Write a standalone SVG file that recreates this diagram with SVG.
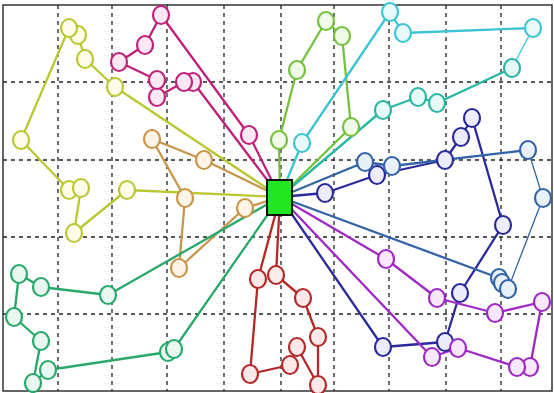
<svg xmlns="http://www.w3.org/2000/svg" width="554" height="393" viewBox="0 0 554 393">
<style>
.grid{stroke:#222;stroke-width:1.3;stroke-dasharray:4 4;fill:none}
.frame{fill:#fff;stroke:#333;stroke-width:1.5}
.r{fill:none;stroke-width:2.3;stroke-linejoin:round}
.thin{stroke-width:1.3}
.n{stroke-width:2.2}
.yl{stroke:#b9c832}.mg{stroke:#c0207a}.or{stroke:#c99548}.gt{stroke:#28a86a}.rd{stroke:#b42828}
.lg{stroke:#74c03c}.cy{stroke:#3cc4d4}.tl{stroke:#28b8a4}.db{stroke:#2a2a9c}.sb{stroke:#3464a8}.pu{stroke:#a028c4}
.yl.n{fill:#fbfde8}.mg.n{fill:#fce8f4}.or.n{fill:#fdf3e6}.gt.n{fill:#e8f8f0}.rd.n{fill:#fde9e9}
.lg.n{fill:#f0fae8}.cy.n{fill:#e8fafc}.tl.n{fill:#e8faf6}.db.n{fill:#ececfa}.sb.n{fill:#e8f0fa}.pu.n{fill:#f8e8fc}
</style>
<rect class="frame" x="3" y="5" width="549" height="386"/>
<g id="grid">
<path class="grid" d="M58 5V391M112 5V391M167 5V391M224 5V391M281 5V391M334 5V391M389 5V391M446 5V391M501 5V391M3 82H552M3 160H552M3 237H552M3 314H552"/>
</g>
<g id="connectors">
<polyline class="r yl" points="280,197 115,87 85,59 78,35 69,28 21,140 69,190 81,188 74,233 127,190 280,197"/>
<polyline class="r mg" points="280,197 193,82 184,82 157,97 157,80 119,62 145,45 161,15 249,135 280,197"/>
<polyline class="r or" points="280,197 204,160 152,139 185,198 179,268 245,208 280,197"/>
<polyline class="r gt" points="280,197 108,295 41,287 19,274 14,317 41,341 33,383 48,370 168,352 174,349 280,197"/>
<polyline class="r rd" points="280,197 258,279 250,374 290,365 297,347 318,385 318,337 303,298 276,275 280,197"/>
<polyline class="r lg" points="280,197 279,140 297,70 326,21 342,36 351,127 280,197"/>
<polyline class="r cy" points="280,197 302,143 390,12 403,33 533,28"/>
<polyline class="r cy thin" points="533,28 512,68"/>
<polyline class="r tl" points="512,68 437,103 418,97 383,110 280,197"/>
<polyline class="r db" points="280,197 325,193 377,175 445,160 461,137 472,118 503,225 460,293 445,342 383,347 280,197"/>
<polyline class="r sb" points="280,197 365,162 392,166 528,150"/>
<polyline class="r sb thin" points="528,150 543,198 508,289"/>
<polyline class="r sb" points="508,289 502,283 499,278 280,197"/>
<polyline class="r pu" points="280,197 386,259 437,298 495,313 542,302 530,367 517,367 458,348 432,357 280,197"/>
</g>
<g id="depot"><rect x="267" y="180" width="25" height="35" fill="#22e622" stroke="#111" stroke-width="2"/></g>
<g id="y1"><ellipse class="n yl" cx="115" cy="87" rx="8" ry="9"/></g>
<g id="y2"><ellipse class="n yl" cx="85" cy="59" rx="8" ry="9"/></g>
<g id="y3"><ellipse class="n yl" cx="78" cy="35" rx="8" ry="9"/></g>
<g id="y4"><ellipse class="n yl" cx="69" cy="28" rx="8" ry="9"/></g>
<g id="y5"><ellipse class="n yl" cx="21" cy="140" rx="8" ry="9"/></g>
<g id="y6"><ellipse class="n yl" cx="69" cy="190" rx="8" ry="9"/></g>
<g id="y7"><ellipse class="n yl" cx="81" cy="188" rx="8" ry="9"/></g>
<g id="y8"><ellipse class="n yl" cx="74" cy="233" rx="8" ry="9"/></g>
<g id="y9"><ellipse class="n yl" cx="127" cy="190" rx="8" ry="9"/></g>
<g id="m1"><ellipse class="n mg" cx="193" cy="82" rx="8" ry="9"/></g>
<g id="m2"><ellipse class="n mg" cx="184" cy="82" rx="8" ry="9"/></g>
<g id="m3"><ellipse class="n mg" cx="157" cy="97" rx="8" ry="9"/></g>
<g id="m4"><ellipse class="n mg" cx="157" cy="80" rx="8" ry="9"/></g>
<g id="m5"><ellipse class="n mg" cx="119" cy="62" rx="8" ry="9"/></g>
<g id="m6"><ellipse class="n mg" cx="145" cy="45" rx="8" ry="9"/></g>
<g id="m7"><ellipse class="n mg" cx="161" cy="15" rx="8" ry="9"/></g>
<g id="m8"><ellipse class="n mg" cx="249" cy="135" rx="8" ry="9"/></g>
<g id="o1"><ellipse class="n or" cx="204" cy="160" rx="8" ry="9"/></g>
<g id="o2"><ellipse class="n or" cx="152" cy="139" rx="8" ry="9"/></g>
<g id="o3"><ellipse class="n or" cx="185" cy="198" rx="8" ry="9"/></g>
<g id="o4"><ellipse class="n or" cx="179" cy="268" rx="8" ry="9"/></g>
<g id="o5"><ellipse class="n or" cx="245" cy="208" rx="8" ry="9"/></g>
<g id="g1"><ellipse class="n gt" cx="108" cy="295" rx="8" ry="9"/></g>
<g id="g2"><ellipse class="n gt" cx="41" cy="287" rx="8" ry="9"/></g>
<g id="g3"><ellipse class="n gt" cx="19" cy="274" rx="8" ry="9"/></g>
<g id="g4"><ellipse class="n gt" cx="14" cy="317" rx="8" ry="9"/></g>
<g id="g5"><ellipse class="n gt" cx="41" cy="341" rx="8" ry="9"/></g>
<g id="g6"><ellipse class="n gt" cx="33" cy="383" rx="8" ry="9"/></g>
<g id="g7"><ellipse class="n gt" cx="48" cy="370" rx="8" ry="9"/></g>
<g id="g8"><ellipse class="n gt" cx="168" cy="352" rx="8" ry="9"/></g>
<g id="g9"><ellipse class="n gt" cx="174" cy="349" rx="8" ry="9"/></g>
<g id="r1"><ellipse class="n rd" cx="258" cy="279" rx="8" ry="9"/></g>
<g id="r2"><ellipse class="n rd" cx="250" cy="374" rx="8" ry="9"/></g>
<g id="r3"><ellipse class="n rd" cx="290" cy="365" rx="8" ry="9"/></g>
<g id="r4"><ellipse class="n rd" cx="297" cy="347" rx="8" ry="9"/></g>
<g id="r5"><ellipse class="n rd" cx="318" cy="385" rx="8" ry="9"/></g>
<g id="r6"><ellipse class="n rd" cx="318" cy="337" rx="8" ry="9"/></g>
<g id="r7"><ellipse class="n rd" cx="303" cy="298" rx="8" ry="9"/></g>
<g id="r8"><ellipse class="n rd" cx="276" cy="275" rx="8" ry="9"/></g>
<g id="l1"><ellipse class="n lg" cx="279" cy="140" rx="8" ry="9"/></g>
<g id="l2"><ellipse class="n lg" cx="297" cy="70" rx="8" ry="9"/></g>
<g id="l3"><ellipse class="n lg" cx="326" cy="21" rx="8" ry="9"/></g>
<g id="l4"><ellipse class="n lg" cx="342" cy="36" rx="8" ry="9"/></g>
<g id="l5"><ellipse class="n lg" cx="351" cy="127" rx="8" ry="9"/></g>
<g id="c1"><ellipse class="n cy" cx="302" cy="143" rx="8" ry="9"/></g>
<g id="c2"><ellipse class="n cy" cx="390" cy="12" rx="8" ry="9"/></g>
<g id="c3"><ellipse class="n cy" cx="403" cy="33" rx="8" ry="9"/></g>
<g id="c4"><ellipse class="n cy" cx="533" cy="28" rx="8" ry="9"/></g>
<g id="c5"><ellipse class="n tl" cx="512" cy="68" rx="8" ry="9"/></g>
<g id="c6"><ellipse class="n tl" cx="437" cy="103" rx="8" ry="9"/></g>
<g id="c7"><ellipse class="n tl" cx="418" cy="97" rx="8" ry="9"/></g>
<g id="c8"><ellipse class="n tl" cx="383" cy="110" rx="8" ry="9"/></g>
<g id="b1"><ellipse class="n db" cx="325" cy="193" rx="8" ry="9"/></g>
<g id="b2"><ellipse class="n db" cx="377" cy="175" rx="8" ry="9"/></g>
<g id="b3"><ellipse class="n db" cx="445" cy="160" rx="8" ry="9"/></g>
<g id="b4"><ellipse class="n db" cx="461" cy="137" rx="8" ry="9"/></g>
<g id="b5"><ellipse class="n db" cx="472" cy="118" rx="8" ry="9"/></g>
<g id="b6"><ellipse class="n db" cx="503" cy="225" rx="8" ry="9"/></g>
<g id="b7"><ellipse class="n db" cx="460" cy="293" rx="8" ry="9"/></g>
<g id="b8"><ellipse class="n db" cx="445" cy="342" rx="8" ry="9"/></g>
<g id="b9"><ellipse class="n db" cx="383" cy="347" rx="8" ry="9"/></g>
<g id="s1"><ellipse class="n sb" cx="365" cy="162" rx="8" ry="9"/></g>
<g id="s2"><ellipse class="n sb" cx="392" cy="166" rx="8" ry="9"/></g>
<g id="s3"><ellipse class="n sb" cx="528" cy="150" rx="8" ry="9"/></g>
<g id="s4"><ellipse class="n sb" cx="543" cy="198" rx="8" ry="9"/></g>
<g id="s5"><ellipse class="n sb" cx="499" cy="278" rx="8" ry="9"/></g>
<g id="s6"><ellipse class="n sb" cx="502" cy="283" rx="8" ry="9"/></g>
<g id="s7"><ellipse class="n sb" cx="508" cy="289" rx="8" ry="9"/></g>
<g id="p1"><ellipse class="n pu" cx="386" cy="259" rx="8" ry="9"/></g>
<g id="p2"><ellipse class="n pu" cx="437" cy="298" rx="8" ry="9"/></g>
<g id="p3"><ellipse class="n pu" cx="495" cy="313" rx="8" ry="9"/></g>
<g id="p4"><ellipse class="n pu" cx="542" cy="302" rx="8" ry="9"/></g>
<g id="p5"><ellipse class="n pu" cx="530" cy="367" rx="8" ry="9"/></g>
<g id="p6"><ellipse class="n pu" cx="517" cy="367" rx="8" ry="9"/></g>
<g id="p7"><ellipse class="n pu" cx="458" cy="348" rx="8" ry="9"/></g>
<g id="p8"><ellipse class="n pu" cx="432" cy="357" rx="8" ry="9"/></g>
</svg>
